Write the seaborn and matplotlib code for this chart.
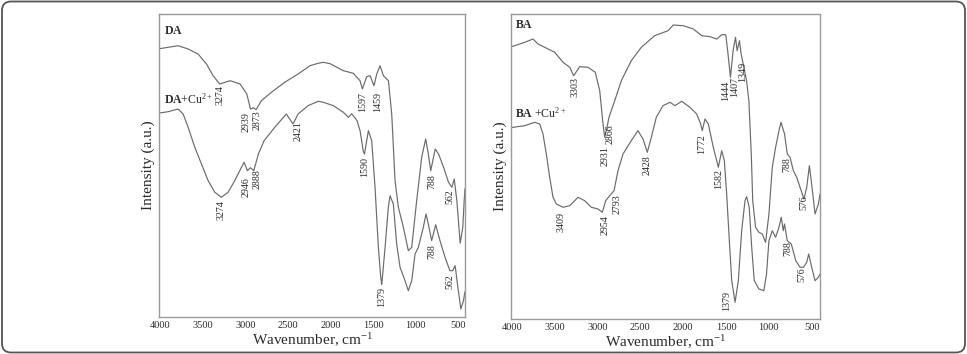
import numpy as np
import pandas as pd
import seaborn as sns
import matplotlib
matplotlib.use("Agg")
import matplotlib.pyplot as plt
from matplotlib.patches import FancyBboxPatch

# ---------------- data (wavenumber, intensity a.u.) ----------------
da_wn = [4008, 3906, 3789, 3671, 3554, 3456, 3378, 3300, 3178, 3061, 2982, 2939, 2904, 2873,
         2811, 2693, 2537, 2380, 2239, 2145, 2083, 2004, 1848, 1731, 1652, 1625, 1574, 1535,
         1488, 1456, 1417, 1378, 1319, 1280, 1241, 1202, 1143, 1085, 1045, 987, 928, 881, 850,
         822, 769, 730, 671, 613, 573, 546, 515, 476, 445, 429, 420]
da_int = [268, 269.4, 271, 267.7, 262.7, 252.7, 241, 232.7, 236, 232.7, 222.7, 207.7, 209, 207,
          216, 224.4, 234.4, 242.7, 251, 253.4, 254.4, 253, 246, 243.4, 236, 227.7, 240, 241,
          231, 242.7, 251, 241, 236, 202.7, 136, 109.4, 89.4, 66, 69.4, 116, 159.4, 177.7, 162.7,
          146, 167.7, 162.7, 149.4, 134.4, 129.4, 137.7, 116, 73.4, 89.4, 116, 128]

dacu_wn = [4008, 3906, 3789, 3730, 3671, 3593, 3515, 3436, 3358, 3280, 3202, 3124, 3045, 3014,
           2975, 2940, 2900, 2846, 2779, 2654, 2518, 2439, 2380, 2263, 2145, 2083, 1965, 1848,
           1789, 1750, 1687, 1652, 1613, 1600, 1554, 1515, 1476, 1437, 1409, 1397, 1358, 1320,
           1300, 1261, 1222, 1182, 1124, 1085, 1045, 1006, 967, 909, 877, 842, 811, 764, 713,
           654, 596, 564, 535, 503, 468, 437, 420]
dacu_int = [203.7, 205, 207.7, 202.7, 189.4, 169.4, 152.7, 136, 124.4, 119.4, 124.4, 136, 149.4, 154.4,
            146, 149, 146, 162.7, 176, 189.4, 202.7, 192.7, 202.7, 211, 215.4, 214.4, 211, 204.4,
            199.4, 203, 196, 186, 165, 162.7, 186, 176, 129.4, 69.4, 39.4, 32, 69.4, 109.4,
            121, 112.7, 72.7, 49.4, 36, 26, 36, 62.7, 69.4, 89.4, 102.7, 89.4, 76, 92, 76,
            59.4, 46, 46, 51, 29.4, 7.7, 16, 25]

ba_wn = [4012, 3965, 3848, 3751, 3693, 3615, 3498, 3401, 3323, 3277, 3207, 3110, 3025, 2973,
         2935, 2915, 2888, 2865, 2798, 2721, 2605, 2488, 2332, 2176, 2115, 1998, 1881, 1783,
         1686, 1608, 1550, 1503, 1480, 1448, 1417, 1389, 1370, 1343, 1323, 1292, 1260, 1233,
         1205, 1188, 1155, 1116, 1077, 1038, 999, 960, 921, 882, 858, 817, 785, 753, 714, 675,
         636, 590, 558, 527, 496, 461, 422, 403]
ba_int = [272, 273.3, 276.7, 280, 275, 271.7, 266.7, 256.7, 251.7, 243.3, 252.3, 251.7, 246.7, 228.3,
          195, 181.7, 191.7, 201.7, 218.3, 238.3, 258.3, 271.7, 283.3, 288.3, 294, 293.3, 290, 283.3,
          282.3, 280, 284.3, 284.3, 268, 241.7, 268.3, 281.7, 268.3, 278.3, 265, 251.7, 238.3, 218.3,
          165, 118.3, 91.7, 86.7, 85, 76.7, 105, 151.7, 171.7, 188.3, 196.7, 185, 165, 161.7, 148.3, 141.7,
          131.7, 120, 131.7, 153.3, 131.7, 105, 115, 125]

bacu_wn = [4012, 3985, 3848, 3732, 3673, 3635, 3596, 3557, 3518, 3479, 3401, 3323, 3226, 3148,
           3071, 2993, 2943, 2903, 2857, 2806, 2760, 2701, 2605, 2527, 2468, 2418, 2371, 2313,
           2235, 2153, 2095, 2017, 1920, 1842, 1795, 1777, 1745, 1706, 1648, 1608, 1589, 1550,
           1519, 1492, 1461, 1433, 1394, 1356, 1317, 1278, 1259, 1229, 1200, 1170, 1116, 1058,
           1027, 999, 960, 921, 882, 855, 832, 817, 785, 738, 686, 636, 597, 558, 535, 500,
           461, 422, 403]
bacu_int = [191, 191.7, 193.3, 196.7, 195, 185, 165, 141.7, 121.7, 115, 111.7, 113.3, 121.7, 118.3,
            111.7, 110, 106.7, 118.3, 123.3, 128.3, 148.3, 165, 178.3, 188.3, 180, 166.7, 181.7, 201.7,
            213.3, 216.7, 213.3, 217.7, 211.7, 205, 195, 188.3, 200, 195, 171.7, 158.3, 151.7, 168.3,
            158.3, 125, 78.3, 38.3, 16.7, 38.3, 88.3, 118.3, 122.3, 111.7, 71.7, 38.3, 30, 28.3,
            45, 78.3, 88.3, 81.7, 91.7, 101.7, 88.3, 95, 78.3, 75, 58.3, 51.7, 51.7, 56.7, 65, 51.7,
            38.3, 41.7, 45]

# peak labels: (text, wavenumber, intensity at top of label)
da_labels = [("3274", 3292, 231), ("2939", 2987, 204.4), ("2873", 2861, 206),
             ("1597", 1625, 224.4), ("1459", 1444, 224.7)]
dacu_labels = [("3274", 3280, 116), ("2946", 2987, 139.4), ("2888", 2858, 147.7),
               ("2421", 2380, 195.4), ("1590", 1601, 159.4), ("788", 803, 142.7),
               ("562", 595, 127.7), ("1379", 1397, 29.4), ("788", 803, 72.7), ("562", 595, 42.7)]
ba_labels = [("3303", 3265, 241.7), ("2931", 2915, 173.3), ("2866", 2857, 195),
             ("1444", 1500, 238.3), ("1407", 1398, 241.7), ("1349", 1305, 256.7)]
bacu_labels = [("3409", 3421, 106.7), ("2954", 2915, 103.3), ("2793", 2768, 125),
               ("2428", 2418, 163.3), ("1772", 1783, 185), ("1582", 1590, 150),
               ("1379", 1492, 28.3), ("788", 785, 161.7), ("576", 590, 123.3),
               ("788", 780, 78.3), ("576", 617, 51.7)]

x_ticks = [4000, 3500, 3000, 2500, 2000, 1500, 1000, 500]
x_minor = [3750, 3250, 2750, 2250, 1750, 1250, 750]

# ---------------- style ----------------
sns.set_style("white")
plt.rcParams["font.family"] = ["Liberation Serif", "DejaVu Serif"]
plt.rcParams["mathtext.fontset"] = "custom"
plt.rcParams["mathtext.rm"] = "Liberation Serif"
plt.rcParams["mathtext.it"] = "Liberation Serif:italic"
plt.rcParams["mathtext.bf"] = "Liberation Serif:bold"

LINE = "#6a6a6a"
TXT = "#2a2a2a"
SPINE = "#9a9a9a"

fig = plt.figure(figsize=(9.67, 3.54), dpi=100)
fig.patch.set_facecolor("white")

border = FancyBboxPatch((0.02, 0.015), 9.63, 3.51,
                        boxstyle="round,pad=0,rounding_size=0.09",
                        transform=fig.dpi_scale_trans, fill=False,
                        ec="#555555", lw=1.3)
fig.add_artist(border)

axL = fig.add_axes([0.1649, 0.1054, 0.3160, 0.8542])
axR = fig.add_axes([0.5281, 0.0989, 0.3199, 0.8607])

panels = [
    (axL, (4008, 419), 302.4,
     [(da_wn, da_int, da_labels), (dacu_wn, dacu_int, dacu_labels)],
     [("$\\mathbf{DA}$", 3953, 285.4), ("$\\mathbf{DA}$+Cu$^{2+}$", 3953, 217.7)]),
    (axR, (4012, 403), 304.7,
     [(ba_wn, ba_int, ba_labels), (bacu_wn, bacu_int, bacu_labels)],
     [("$\\mathbf{BA}$", 3965, 294.3), ("$\\mathbf{BA}$ +Cu$^{2+}$", 3965, 205.7)]),
]

for ax, xl, ytop, series, names in panels:
    for wn, inten, labels in series:
        df = pd.DataFrame({"wn": wn, "I": inten})
        sns.lineplot(data=df, x="wn", y="I", ax=ax, color=LINE, lw=0.85,
                     sort=False, estimator=None)
        for t, x, y in labels:
            ax.text(x, y, t, rotation=90, ha="center", va="top",
                    fontsize=7.2, color=TXT)
    for t, x, y in names:
        ax.text(x, y, t, ha="left", va="center", fontsize=8.5, color=TXT)
    ax.set_xlim(*xl)
    ax.set_ylim(0, ytop)
    ax.set_xticks(x_ticks)
    ax.set_xticks(x_minor, minor=True)
    ax.set_xticklabels([str(v) for v in x_ticks], fontsize=7.5, color=TXT)
    ax.set_yticks([])
    ax.tick_params(axis="x", which="major", direction="in", length=4, width=0.8,
                   color=SPINE, pad=3)
    ax.tick_params(axis="x", which="minor", direction="in", length=2, width=0.7,
                   color=SPINE)
    for s in ax.spines.values():
        s.set_color(SPINE)
        s.set_linewidth(1.0)
    ax.set_xlabel("Wavenumber, cm$^{-1}$", fontsize=11, color=TXT, labelpad=1)
    ax.set_ylabel("Intensity (a.u.)", fontsize=11, color=TXT, labelpad=3)

fig.savefig("out.png", dpi=100, facecolor="white")
